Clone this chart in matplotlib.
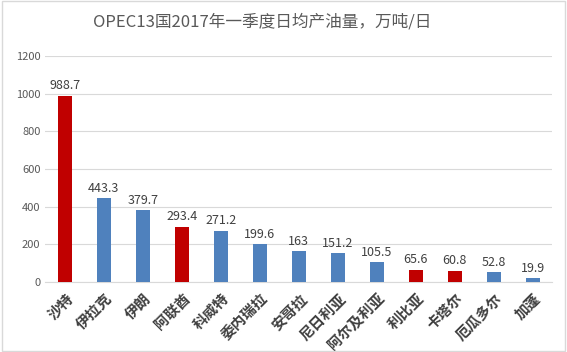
import matplotlib
matplotlib.use("Agg")
import matplotlib.pyplot as plt
from matplotlib.patches import Rectangle

plt.rcParams['font.family'] = ['Noto Sans CJK SC', 'DejaVu Sans']

countries = ["沙特", "伊拉克", "伊朗", "阿联酋", "科威特", "委内瑞拉", "安哥拉",
             "尼日利亚", "阿尔及利亚", "利比亚", "卡塔尔", "厄瓜多尔", "加蓬"]
values = [988.7, 443.3, 379.7, 293.4, 271.2, 199.6, 163, 151.2, 105.5, 65.6, 60.8, 52.8, 19.9]
value_labels = ["988.7", "443.3", "379.7", "293.4", "271.2", "199.6", "163", "151.2",
                "105.5", "65.6", "60.8", "52.8", "19.9"]
highlight = ["沙特", "阿联酋", "利比亚", "卡塔尔"]
yticks = [0, 200, 400, 600, 800, 1000, 1200]

RED = "#C00000"
BLUE = "#4F81BD"

fig = plt.figure(figsize=(5.67, 3.52), dpi=100)
fig.patch.set_facecolor("white")
fig.add_artist(Rectangle((0.003, 0.003), 0.994, 0.994, transform=fig.transFigure,
                         fill=False, edgecolor="#D9D9D9", linewidth=1))
ax = fig.add_axes([0.080, 0.199, 0.894, 0.642])

x = list(range(len(countries)))
colors = [RED if c in highlight else BLUE for c in countries]
bars = ax.bar(x, values, width=0.36, color=colors, zorder=3)
for xi, v, lab in zip(x, values, value_labels):
    ax.text(xi, v + 18, lab, ha="center", va="bottom", fontsize=9, color="#404040")

ax.set_xlim(-0.5, len(countries) - 0.5)
ax.set_ylim(0, 1200)
ax.set_yticks(yticks)
ax.set_yticklabels([str(t) for t in yticks], fontsize=8, color="#595959")
ax.grid(axis="y", color="#D9D9D9", linewidth=0.8, zorder=0)
for s in ["top", "right", "left"]:
    ax.spines[s].set_visible(False)
ax.spines["bottom"].set_color("#D9D9D9")
ax.tick_params(axis="both", length=0)
ax.tick_params(axis="x", pad=6)
ax.set_xticks(x)
ax.set_xticklabels(countries, rotation=45, ha="right", rotation_mode="anchor",
                   fontsize=10.5, color="#404040", fontweight="bold")

fig.text(0.462, 0.938, "OPEC13国2017年一季度日均产油量，万吨/日", ha="center", va="center",
         fontsize=12, color="#595959")

fig.savefig("out.png", dpi=100)
